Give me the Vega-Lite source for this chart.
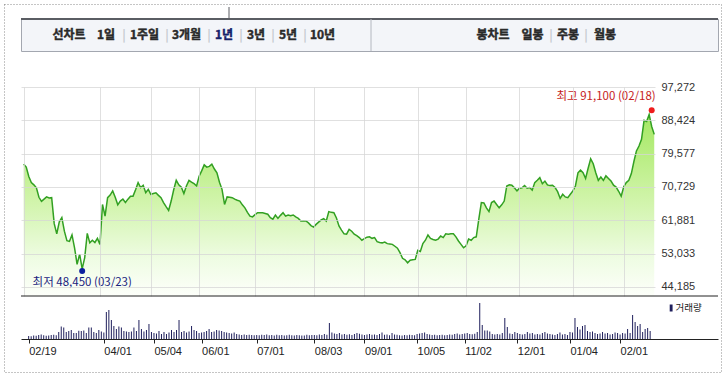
{
  "$schema": "https://vega.github.io/schema/vega-lite/v6.json",
  "background": "white",
  "padding": {"left": 3, "top": 3, "right": 0, "bottom": 0},
  "config": {"view": {"stroke": null}, "font": "Liberation Sans", "axis": {"grid": false}},
  "bounds": "flush",
  "spacing": 36,
  "datasets": {
    "tabs": [
      {"t": "선차트", "p": 48, "s": "n"},
      {"t": "1일", "p": 85, "s": "n"},
      {"t": "|", "p": 103, "s": "sep"},
      {"t": "1주일", "p": 123.5, "s": "n"},
      {"t": "|", "p": 146, "s": "sep"},
      {"t": "3개월", "p": 165.5, "s": "n"},
      {"t": "|", "p": 188, "s": "sep"},
      {"t": "1년", "p": 203, "s": "sel"},
      {"t": "|", "p": 220, "s": "sep"},
      {"t": "3년", "p": 235, "s": "n"},
      {"t": "|", "p": 252, "s": "sep"},
      {"t": "5년", "p": 267, "s": "n"},
      {"t": "|", "p": 284, "s": "sep"},
      {"t": "10년", "p": 301.5, "s": "n"},
      {"t": "봉차트", "p": 472, "s": "n"},
      {"t": "일봉", "p": 511.5, "s": "n"},
      {"t": "|", "p": 530, "s": "sep"},
      {"t": "주봉", "p": 547, "s": "n"},
      {"t": "|", "p": 565, "s": "sep"},
      {"t": "월봉", "p": 584, "s": "n"}
    ],
    "stock": [
      {"d": "02/19", "c": 76800, "v": 300},
      {"d": "02/20", "c": 76000, "v": 280},
      {"d": "02/21", "c": 73500, "v": 350},
      {"d": "02/24", "c": 71900, "v": 330},
      {"d": "02/25", "c": 71300, "v": 400},
      {"d": "02/26", "c": 70500, "v": 450},
      {"d": "02/27", "c": 68000, "v": 380},
      {"d": "02/28", "c": 66900, "v": 330},
      {"d": "03/02", "c": 67500, "v": 350},
      {"d": "03/03", "c": 68100, "v": 400},
      {"d": "03/04", "c": 67800, "v": 420},
      {"d": "03/05", "c": 67900, "v": 380},
      {"d": "03/06", "c": 61000, "v": 700},
      {"d": "03/09", "c": 58300, "v": 1250},
      {"d": "03/10", "c": 61500, "v": 1150},
      {"d": "03/11", "c": 62600, "v": 700},
      {"d": "03/12", "c": 59000, "v": 800},
      {"d": "03/13", "c": 56500, "v": 900},
      {"d": "03/16", "c": 56300, "v": 600},
      {"d": "03/17", "c": 58000, "v": 600},
      {"d": "03/18", "c": 54600, "v": 820},
      {"d": "03/19", "c": 50200, "v": 800},
      {"d": "03/20", "c": 52900, "v": 850},
      {"d": "03/23", "c": 49000, "v": 600, "k": "최저", "e": 48450},
      {"d": "03/24", "c": 52000, "v": 1150},
      {"d": "03/25", "c": 58400, "v": 1150},
      {"d": "03/26", "c": 55900, "v": 700},
      {"d": "03/27", "c": 56600, "v": 600},
      {"d": "03/30", "c": 56000, "v": 900},
      {"d": "03/31", "c": 57100, "v": 750},
      {"d": "04/01", "c": 55500, "v": 650},
      {"d": "04/02", "c": 66100, "v": 2700},
      {"d": "04/03", "c": 63000, "v": 2900},
      {"d": "04/06", "c": 67900, "v": 1900},
      {"d": "04/07", "c": 68600, "v": 1300},
      {"d": "04/08", "c": 69700, "v": 1000},
      {"d": "04/09", "c": 68000, "v": 1250},
      {"d": "04/10", "c": 66000, "v": 1150},
      {"d": "04/13", "c": 67000, "v": 800},
      {"d": "04/14", "c": 67500, "v": 750},
      {"d": "04/16", "c": 66600, "v": 700},
      {"d": "04/17", "c": 67500, "v": 750},
      {"d": "04/20", "c": 68300, "v": 1150},
      {"d": "04/21", "c": 68300, "v": 800},
      {"d": "04/22", "c": 70000, "v": 1900},
      {"d": "04/23", "c": 71900, "v": 1000},
      {"d": "04/24", "c": 70600, "v": 750},
      {"d": "04/27", "c": 71200, "v": 900},
      {"d": "04/28", "c": 69200, "v": 1500},
      {"d": "04/29", "c": 70100, "v": 700},
      {"d": "05/04", "c": 68800, "v": 600},
      {"d": "05/06", "c": 69000, "v": 550},
      {"d": "05/07", "c": 69200, "v": 800},
      {"d": "05/08", "c": 68500, "v": 500},
      {"d": "05/11", "c": 67900, "v": 700},
      {"d": "05/12", "c": 66600, "v": 500},
      {"d": "05/13", "c": 65500, "v": 650},
      {"d": "05/14", "c": 64500, "v": 900},
      {"d": "05/15", "c": 67000, "v": 700},
      {"d": "05/18", "c": 70000, "v": 900},
      {"d": "05/19", "c": 72500, "v": 1900},
      {"d": "05/20", "c": 71300, "v": 700},
      {"d": "05/21", "c": 70700, "v": 800},
      {"d": "05/22", "c": 69000, "v": 650},
      {"d": "05/25", "c": 71000, "v": 750},
      {"d": "05/26", "c": 72500, "v": 1300},
      {"d": "05/27", "c": 72000, "v": 900},
      {"d": "05/28", "c": 71600, "v": 800},
      {"d": "05/29", "c": 71000, "v": 600},
      {"d": "06/01", "c": 73600, "v": 650},
      {"d": "06/02", "c": 75000, "v": 700},
      {"d": "06/03", "c": 76600, "v": 800},
      {"d": "06/04", "c": 76000, "v": 1000},
      {"d": "06/05", "c": 76200, "v": 700},
      {"d": "06/08", "c": 76800, "v": 750},
      {"d": "06/09", "c": 75500, "v": 900},
      {"d": "06/10", "c": 74500, "v": 850},
      {"d": "06/11", "c": 72000, "v": 800},
      {"d": "06/12", "c": 70100, "v": 700},
      {"d": "06/15", "c": 66100, "v": 650},
      {"d": "06/16", "c": 68100, "v": 600},
      {"d": "06/17", "c": 68000, "v": 550},
      {"d": "06/18", "c": 67900, "v": 650},
      {"d": "06/19", "c": 67500, "v": 500},
      {"d": "06/22", "c": 67200, "v": 450},
      {"d": "06/23", "c": 67000, "v": 400},
      {"d": "06/24", "c": 66000, "v": 450},
      {"d": "06/25", "c": 65200, "v": 400},
      {"d": "06/26", "c": 64000, "v": 420},
      {"d": "06/29", "c": 63000, "v": 400},
      {"d": "06/30", "c": 62800, "v": 380},
      {"d": "07/01", "c": 63400, "v": 400},
      {"d": "07/02", "c": 63900, "v": 380},
      {"d": "07/03", "c": 63900, "v": 420},
      {"d": "07/06", "c": 63900, "v": 400},
      {"d": "07/07", "c": 63700, "v": 450},
      {"d": "07/08", "c": 63500, "v": 380},
      {"d": "07/09", "c": 62600, "v": 400},
      {"d": "07/10", "c": 62200, "v": 350},
      {"d": "07/13", "c": 63300, "v": 420},
      {"d": "07/14", "c": 62400, "v": 380},
      {"d": "07/15", "c": 63200, "v": 400},
      {"d": "07/16", "c": 63900, "v": 350},
      {"d": "07/17", "c": 63000, "v": 380},
      {"d": "07/20", "c": 63300, "v": 420},
      {"d": "07/21", "c": 63100, "v": 380},
      {"d": "07/22", "c": 63300, "v": 360},
      {"d": "07/23", "c": 62800, "v": 400},
      {"d": "07/24", "c": 62400, "v": 380},
      {"d": "07/27", "c": 61700, "v": 350},
      {"d": "07/28", "c": 61800, "v": 340},
      {"d": "07/29", "c": 61700, "v": 420},
      {"d": "07/30", "c": 61200, "v": 380},
      {"d": "07/31", "c": 60500, "v": 400},
      {"d": "08/03", "c": 60100, "v": 400},
      {"d": "08/04", "c": 60800, "v": 380},
      {"d": "08/05", "c": 61400, "v": 450},
      {"d": "08/06", "c": 62000, "v": 400},
      {"d": "08/07", "c": 62300, "v": 500},
      {"d": "08/10", "c": 61700, "v": 420},
      {"d": "08/11", "c": 64200, "v": 1600},
      {"d": "08/12", "c": 64000, "v": 650},
      {"d": "08/13", "c": 63900, "v": 550},
      {"d": "08/14", "c": 62500, "v": 500},
      {"d": "08/18", "c": 60400, "v": 600},
      {"d": "08/19", "c": 59300, "v": 450},
      {"d": "08/20", "c": 58300, "v": 500},
      {"d": "08/21", "c": 58200, "v": 420},
      {"d": "08/24", "c": 59500, "v": 480},
      {"d": "08/25", "c": 59000, "v": 400},
      {"d": "08/26", "c": 58200, "v": 500},
      {"d": "08/27", "c": 57800, "v": 600},
      {"d": "08/28", "c": 57300, "v": 520},
      {"d": "08/31", "c": 56600, "v": 450},
      {"d": "09/01", "c": 57000, "v": 400},
      {"d": "09/02", "c": 57400, "v": 450},
      {"d": "09/03", "c": 57500, "v": 500},
      {"d": "09/04", "c": 57100, "v": 420},
      {"d": "09/07", "c": 57300, "v": 450},
      {"d": "09/08", "c": 56200, "v": 400},
      {"d": "09/09", "c": 56000, "v": 500},
      {"d": "09/10", "c": 55900, "v": 650},
      {"d": "09/11", "c": 56100, "v": 420},
      {"d": "09/14", "c": 55700, "v": 450},
      {"d": "09/15", "c": 55600, "v": 380},
      {"d": "09/16", "c": 55500, "v": 600},
      {"d": "09/17", "c": 55000, "v": 450},
      {"d": "09/18", "c": 54500, "v": 420},
      {"d": "09/21", "c": 53300, "v": 380},
      {"d": "09/22", "c": 51800, "v": 350},
      {"d": "09/23", "c": 51400, "v": 400},
      {"d": "09/24", "c": 50600, "v": 380},
      {"d": "09/25", "c": 51300, "v": 420},
      {"d": "09/28", "c": 51400, "v": 400},
      {"d": "09/29", "c": 51500, "v": 380},
      {"d": "10/05", "c": 53900, "v": 500},
      {"d": "10/06", "c": 53600, "v": 550},
      {"d": "10/07", "c": 55700, "v": 600},
      {"d": "10/08", "c": 56600, "v": 650},
      {"d": "10/12", "c": 58000, "v": 500},
      {"d": "10/13", "c": 57100, "v": 450},
      {"d": "10/14", "c": 56800, "v": 400},
      {"d": "10/15", "c": 56600, "v": 420},
      {"d": "10/16", "c": 56900, "v": 380},
      {"d": "10/19", "c": 57700, "v": 400},
      {"d": "10/20", "c": 57300, "v": 420},
      {"d": "10/21", "c": 58300, "v": 380},
      {"d": "10/22", "c": 58200, "v": 400},
      {"d": "10/23", "c": 58300, "v": 450},
      {"d": "10/26", "c": 58300, "v": 420},
      {"d": "10/27", "c": 57500, "v": 500},
      {"d": "10/28", "c": 56400, "v": 550},
      {"d": "10/29", "c": 55500, "v": 450},
      {"d": "10/30", "c": 54600, "v": 500},
      {"d": "11/02", "c": 55100, "v": 550},
      {"d": "11/03", "c": 56900, "v": 600},
      {"d": "11/04", "c": 56600, "v": 500},
      {"d": "11/05", "c": 57300, "v": 480},
      {"d": "11/06", "c": 57500, "v": 520},
      {"d": "11/09", "c": 62200, "v": 700},
      {"d": "11/10", "c": 66600, "v": 3600},
      {"d": "11/11", "c": 66500, "v": 1400},
      {"d": "11/12", "c": 65200, "v": 850},
      {"d": "11/13", "c": 64200, "v": 850},
      {"d": "11/16", "c": 66600, "v": 750},
      {"d": "11/17", "c": 67000, "v": 500},
      {"d": "11/18", "c": 66100, "v": 450},
      {"d": "11/19", "c": 65200, "v": 500},
      {"d": "11/20", "c": 66000, "v": 450},
      {"d": "11/23", "c": 67000, "v": 600},
      {"d": "11/24", "c": 71000, "v": 2100},
      {"d": "11/25", "c": 71300, "v": 1200},
      {"d": "11/26", "c": 71200, "v": 550},
      {"d": "11/27", "c": 70500, "v": 500},
      {"d": "11/30", "c": 69700, "v": 700},
      {"d": "12/01", "c": 70400, "v": 600},
      {"d": "12/02", "c": 70500, "v": 500},
      {"d": "12/03", "c": 71100, "v": 450},
      {"d": "12/04", "c": 70400, "v": 500},
      {"d": "12/07", "c": 70600, "v": 700},
      {"d": "12/08", "c": 69900, "v": 550},
      {"d": "12/09", "c": 71900, "v": 600},
      {"d": "12/10", "c": 72500, "v": 450},
      {"d": "12/11", "c": 73200, "v": 500},
      {"d": "12/14", "c": 71600, "v": 450},
      {"d": "12/15", "c": 72300, "v": 600},
      {"d": "12/16", "c": 71300, "v": 700},
      {"d": "12/17", "c": 71100, "v": 550},
      {"d": "12/18", "c": 71200, "v": 500},
      {"d": "12/21", "c": 70600, "v": 450},
      {"d": "12/22", "c": 69500, "v": 400},
      {"d": "12/23", "c": 67700, "v": 500},
      {"d": "12/24", "c": 68800, "v": 650},
      {"d": "12/28", "c": 68100, "v": 450},
      {"d": "12/29", "c": 67900, "v": 500},
      {"d": "12/30", "c": 68800, "v": 400},
      {"d": "01/04", "c": 69700, "v": 700},
      {"d": "01/05", "c": 71000, "v": 650},
      {"d": "01/06", "c": 74500, "v": 2100},
      {"d": "01/07", "c": 75200, "v": 1200},
      {"d": "01/08", "c": 74500, "v": 950},
      {"d": "01/11", "c": 73000, "v": 1300},
      {"d": "01/12", "c": 75700, "v": 1400},
      {"d": "01/13", "c": 78200, "v": 800},
      {"d": "01/14", "c": 76900, "v": 700},
      {"d": "01/15", "c": 74500, "v": 750},
      {"d": "01/18", "c": 72500, "v": 600},
      {"d": "01/19", "c": 73400, "v": 500},
      {"d": "01/20", "c": 72500, "v": 550},
      {"d": "01/21", "c": 73700, "v": 700},
      {"d": "01/22", "c": 73000, "v": 550},
      {"d": "01/25", "c": 72300, "v": 600},
      {"d": "01/26", "c": 71200, "v": 450},
      {"d": "01/27", "c": 70700, "v": 500},
      {"d": "01/28", "c": 69600, "v": 650},
      {"d": "01/29", "c": 68300, "v": 600},
      {"d": "02/01", "c": 70800, "v": 450},
      {"d": "02/02", "c": 71900, "v": 600},
      {"d": "02/03", "c": 72500, "v": 550},
      {"d": "02/04", "c": 74300, "v": 1000},
      {"d": "02/05", "c": 77500, "v": 600},
      {"d": "02/08", "c": 80300, "v": 2400},
      {"d": "02/09", "c": 81600, "v": 1700},
      {"d": "02/10", "c": 83400, "v": 1300},
      {"d": "02/15", "c": 88400, "v": 1500},
      {"d": "02/16", "c": 88100, "v": 700},
      {"d": "02/17", "c": 90000, "v": 1000},
      {"d": "02/18", "c": 86800, "v": 1100, "k": "최고", "e": 91100},
      {"d": "02/19", "c": 84700, "v": 800}
    ]
  },
  "vconcat": [
    {
      "width": 697,
      "height": 32,
      "view": {"stroke": "#a3a7b0", "fill": "#f3f5f9"},
      "layer": [
        {
          "data": {"values": [{}]},
          "mark": {"type": "rect", "filled": false, "stroke": "#8a8a8a", "strokeDash": [1, 2], "strokeWidth": 1},
          "encoding": {
            "x": {"datum": -16.5, "type": "quantitative", "scale": {"domain": [0, 697], "nice": false, "zero": false}, "axis": null},
            "x2": {"datum": 700.5},
            "y": {"datum": 46.5, "type": "quantitative", "scale": {"domain": [0, 32], "nice": false, "zero": false}, "axis": null},
            "y2": {"datum": -321.5}
          }
        },
        {
          "data": {"values": [{}]},
          "mark": {"type": "rule", "color": "#5a5d63", "strokeWidth": 2},
          "encoding": {"y": {"datum": 32, "type": "quantitative"}}
        },
        {
          "data": {"values": [{}]},
          "mark": {"type": "rule", "color": "#5a5d63", "strokeWidth": 1},
          "encoding": {"x": {"datum": 208, "type": "quantitative"}, "y": {"datum": 32, "type": "quantitative"}, "y2": {"datum": 44}}
        },
        {
          "data": {"values": [{}]},
          "mark": {"type": "rule", "color": "#b4b8c0", "strokeWidth": 1},
          "encoding": {"x": {"datum": 350, "type": "quantitative"}}
        },
        {
          "data": {"name": "tabs"},
          "mark": {"type": "text", "font": "Noto Sans CJK KR", "fontSize": 12, "fontWeight": "bold", "baseline": "middle", "align": "center", "strokeWidth": 0.45},
          "encoding": {
            "x": {"field": "p", "type": "quantitative"},
            "y": {"datum": 16.5, "type": "quantitative"},
            "text": {"field": "t"},
            "color": {"field": "s", "type": "nominal", "scale": {"domain": ["n", "sel", "sep"], "range": ["#2a2a2a", "#15216a", "#c6c9d0"]}, "legend": null},
            "stroke": {"field": "s", "type": "nominal", "scale": {"domain": ["n", "sel", "sep"], "range": ["#2a2a2a", "#15216a", "#ffffff00"]}, "legend": null}
          }
        }
      ]
    },
    {
      "bounds": "flush",
      "spacing": 0,
      "vconcat": [
        {
          "width": 634,
          "height": 209,
          "data": {"name": "stock"},
          "transform": [
            {"window": [{"op": "row_number", "as": "i"}]},
            {"calculate": "datum.k ? datum.k + ' ' + format(datum.e, ',') + ' (' + datum.d + ')' : ''", "as": "lab"}
          ],
          "encoding": {
            "x": {
              "field": "i", "type": "quantitative", "title": null,
              "scale": {"domain": [-0.062, 249.3], "nice": false, "zero": false},
              "axis": {"values": [1, 31, 51, 70, 92, 115, 135, 156, 175, 196, 217, 237], "grid": true, "gridColor": "#d6d6d6", "gridOpacity": 0.75, "zindex": 1, "labels": false, "ticks": false, "domain": false}
            },
            "y": {
              "field": "c", "type": "quantitative", "title": null,
              "scale": {"domain": [41796, 97272], "nice": false, "zero": false},
              "axis": {"orient": "right", "values": [44185, 53033, 61881, 70729, 79577, 88424, 97272], "format": ",.0f", "grid": true, "gridColor": "#d6d6d6", "gridOpacity": 0.75, "zindex": 1, "ticks": false, "domain": false, "labelPadding": 6, "labelFontSize": 11, "labelColor": "#333333", "labelFont": "Liberation Sans", "labelFlush": false, "labelOverlap": false}
            }
          },
          "layer": [
            {
              "mark": {
                "type": "area",
                "line": {"color": "#32a022", "strokeWidth": 1.5},
                "color": {"gradient": "linear", "x1": 0, "y1": 0, "x2": 0, "y2": 1, "stops": [
                  {"offset": 0, "color": "#7ddc22"},
                  {"offset": 0.2, "color": "#98e648"},
                  {"offset": 0.5, "color": "#c0f08c"},
                  {"offset": 0.8, "color": "#e8fbd8"},
                  {"offset": 1, "color": "#fcfff8"}
                ]}
              },
              "encoding": {"y2": {"datum": 41796}}
            },
            {
              "transform": [{"filter": "datum.k == '최고'"}],
              "mark": {"type": "point", "filled": true, "size": 36, "opacity": 1, "color": "#ee1c1c"},
              "encoding": {"y": {"field": "e", "type": "quantitative", "title": null, "scale": {"domain": [41796, 97272], "nice": false, "zero": false}, "axis": {"orient": "right", "values": [44185, 53033, 61881, 70729, 79577, 88424, 97272], "format": ",.0f", "grid": true, "gridColor": "#d6d6d6", "gridOpacity": 0.75, "zindex": 1, "ticks": false, "domain": false, "labelPadding": 6, "labelFontSize": 11, "labelColor": "#333333", "labelFont": "Liberation Sans", "labelFlush": false, "labelOverlap": false}}}
            },
            {
              "transform": [{"filter": "datum.k == '최저'"}],
              "mark": {"type": "point", "filled": true, "size": 36, "opacity": 1, "color": "#0c1f9e"},
              "encoding": {"y": {"field": "e", "type": "quantitative", "title": null, "scale": {"domain": [41796, 97272], "nice": false, "zero": false}, "axis": {"orient": "right", "values": [44185, 53033, 61881, 70729, 79577, 88424, 97272], "format": ",.0f", "grid": true, "gridColor": "#d6d6d6", "gridOpacity": 0.75, "zindex": 1, "ticks": false, "domain": false, "labelPadding": 6, "labelFontSize": 11, "labelColor": "#333333", "labelFont": "Liberation Sans", "labelFlush": false, "labelOverlap": false}}}
            },
            {
              "transform": [{"filter": "datum.k == '최고'"}],
              "mark": {"type": "text", "align": "right", "baseline": "middle", "dx": 4, "dy": -13, "font": "Noto Sans CJK KR", "fontSize": 11.5, "color": "#c61c1c"},
              "encoding": {"y": {"field": "e", "type": "quantitative", "title": null, "scale": {"domain": [41796, 97272], "nice": false, "zero": false}, "axis": {"orient": "right", "values": [44185, 53033, 61881, 70729, 79577, 88424, 97272], "format": ",.0f", "grid": true, "gridColor": "#d6d6d6", "gridOpacity": 0.75, "zindex": 1, "ticks": false, "domain": false, "labelPadding": 6, "labelFontSize": 11, "labelColor": "#333333", "labelFont": "Liberation Sans", "labelFlush": false, "labelOverlap": false}}, "text": {"field": "lab"}}
            },
            {
              "transform": [{"filter": "datum.k == '최저'"}],
              "mark": {"type": "text", "align": "center", "baseline": "middle", "dy": 12, "font": "Noto Sans CJK KR", "fontSize": 11.5, "color": "#1a237e"},
              "encoding": {"y": {"field": "e", "type": "quantitative", "title": null, "scale": {"domain": [41796, 97272], "nice": false, "zero": false}, "axis": {"orient": "right", "values": [44185, 53033, 61881, 70729, 79577, 88424, 97272], "format": ",.0f", "grid": true, "gridColor": "#d6d6d6", "gridOpacity": 0.75, "zindex": 1, "ticks": false, "domain": false, "labelPadding": 6, "labelFontSize": 11, "labelColor": "#333333", "labelFont": "Liberation Sans", "labelFlush": false, "labelOverlap": false}}, "text": {"field": "lab"}}
            }
          ]
        },
        {
          "width": 697,
          "height": 43,
          "layer": [
            {
              "data": {"name": "stock"},
              "transform": [{"window": [{"op": "row_number", "as": "i"}]}],
              "mark": {"type": "bar", "size": 1, "color": "#1f1f5c"},
              "encoding": {
                "x": {
                  "field": "i", "type": "quantitative", "title": null,
                  "scale": {"domain": [-0.062, 274.08], "nice": false, "zero": false},
                  "axis": {
                    "values": [1, 31, 51, 70, 92, 115, 135, 156, 175, 196, 217, 237],
                    "labelExpr": "['02/19','04/01','05/04','06/01','07/01','08/03','09/01','10/05','11/02','12/01','01/04','02/01'][indexof([1,31,51,70,92,115,135,156,175,196,217,237], datum.value)]",
                    "grid": false, "domain": true, "domainColor": "#222222", "tickColor": "#222222", "tickSize": 4,
                    "labelAlign": "left", "labelDx": 0, "labelPadding": 2, "labelFontSize": 11, "labelColor": "#222222", "labelFont": "Liberation Sans",
                    "labelFlush": false, "labelOverlap": false
                  }
                },
                "y": {"field": "v", "type": "quantitative", "title": null, "scale": {"domain": [0, 4300], "nice": false, "zero": true}, "axis": null}
              }
            },
            {
              "data": {"values": [{}]},
              "mark": {"type": "rule", "color": "#222222", "strokeWidth": 1},
              "encoding": {"y": {"datum": 4300, "type": "quantitative"}}
            },
            {
              "data": {"values": [{}]},
              "mark": {"type": "rect", "color": "#1f1f5c"},
              "encoding": {"x": {"datum": 256.8, "type": "quantitative"}, "x2": {"datum": 257.95}, "y": {"datum": 3450, "type": "quantitative"}, "y2": {"datum": 2750}}
            },
            {
              "data": {"values": [{"t": "거래량"}]},
              "mark": {"type": "text", "align": "left", "baseline": "middle", "font": "Noto Sans CJK KR", "fontSize": 9.5, "color": "#222222"},
              "encoding": {"x": {"datum": 259.1, "type": "quantitative"}, "y": {"datum": 3100, "type": "quantitative"}, "text": {"field": "t"}}
            }
          ]
        }
      ]
    }
  ]
}
